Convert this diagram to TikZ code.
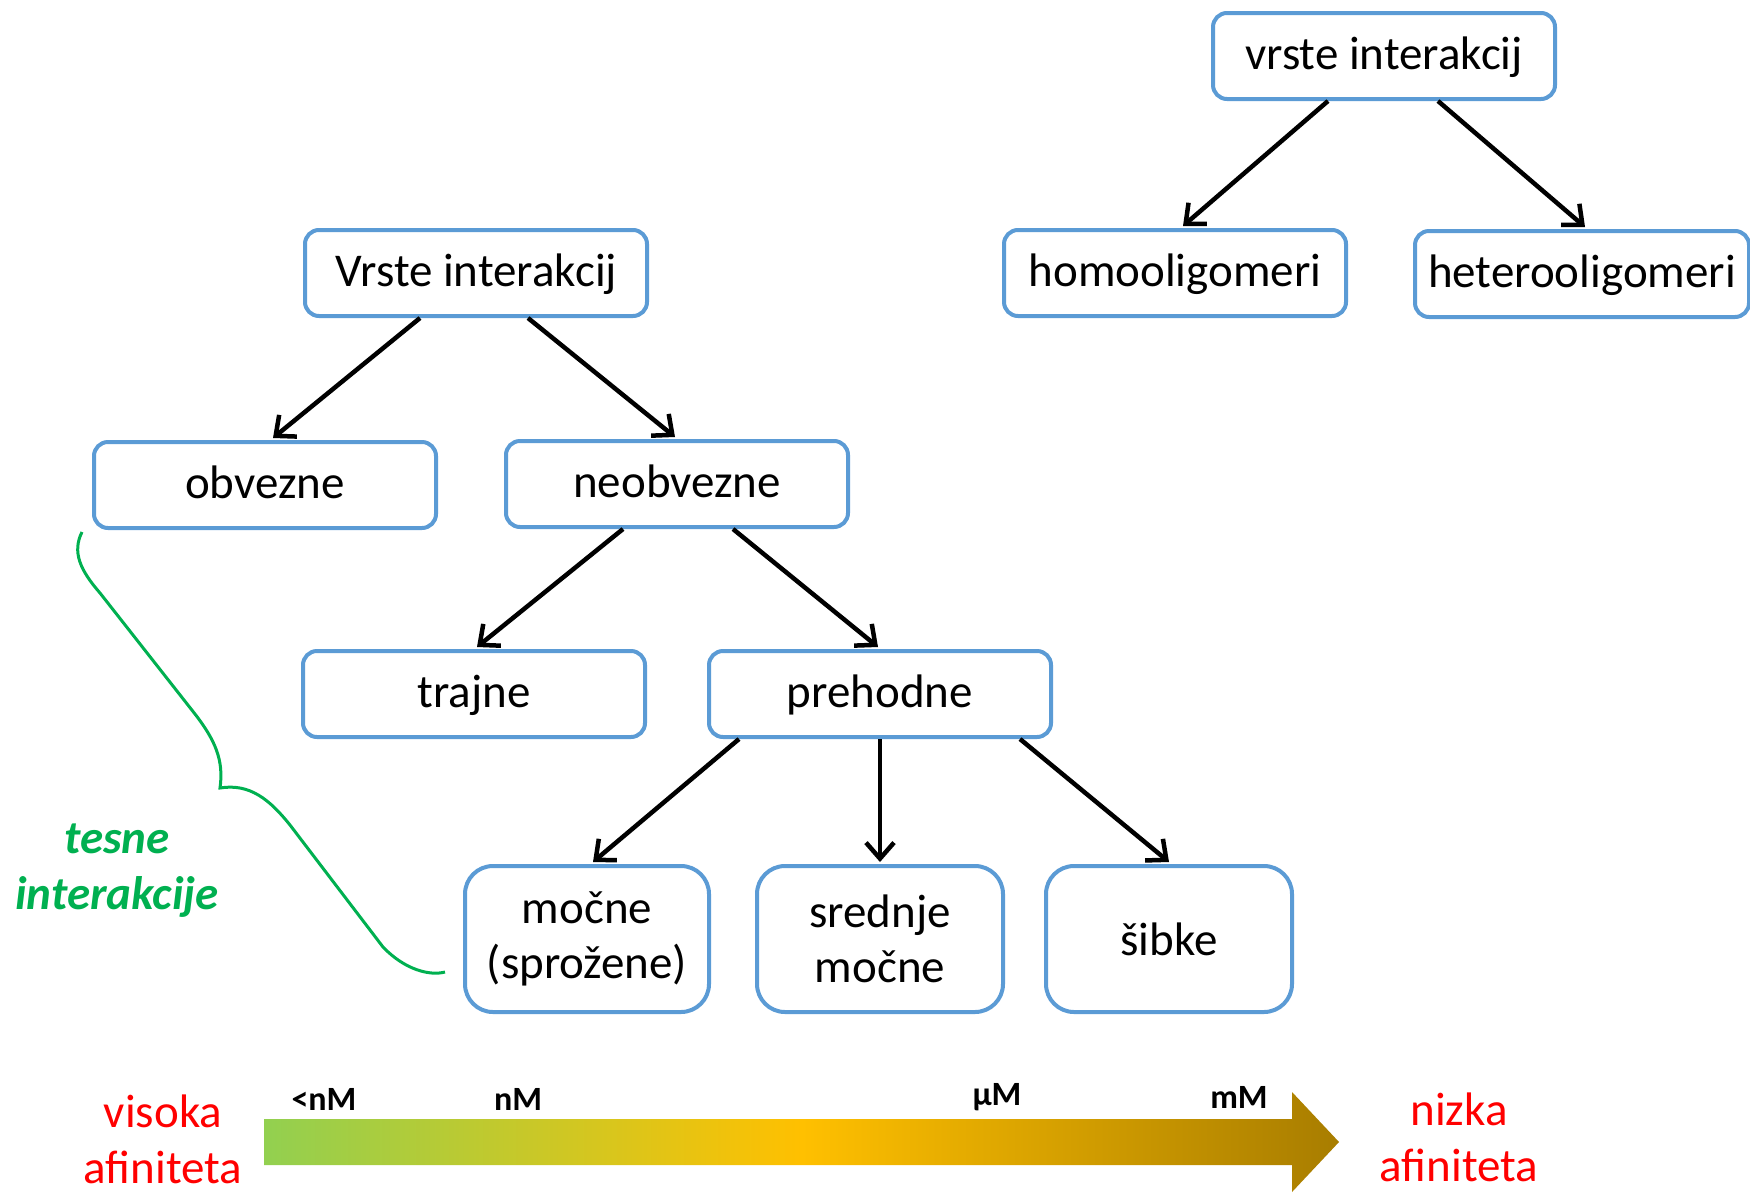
\documentclass[tikz,border=0pt]{standalone}
\usepackage{fontspec}
\setmainfont{Carlito}
\usetikzlibrary{arrows.meta}
\definecolor{boxblue}{HTML}{5B9BD5}
\definecolor{brgreen}{HTML}{00B050}
\definecolor{gstart}{HTML}{92D050}
\definecolor{gmid}{HTML}{FFC000}
\definecolor{gend}{HTML}{A87D00}
\begin{document}
\begin{tikzpicture}[x=1pt,y=-1pt,
  box/.style={draw=boxblue,line width=4pt,rounded corners=14pt,minimum width=342pt,minimum height=86pt,inner sep=0pt,font=\fontsize{47}{55}\selectfont,align=center,fill=white},
  onebox/.style={box,text height=35pt,text depth=9pt},
  bigbox/.style={box,rounded corners=28pt,minimum width=244pt,minimum height=146pt},
  arr/.style={line width=4.5pt,-{Straight Barb[length=16pt,width=28pt]}},
  unit/.style={font=\fontsize{34}{40}\selectfont\bfseries},
  redtxt/.style={font=\fontsize{47}{56}\selectfont,text=red,align=center,inner sep=0pt}]
\useasboundingbox (0,0) rectangle (1750,1192);
% boxes
\node[onebox] (t0) at (1384,56) {vrste interakcij};
\node[onebox] (homo) at (1175,273) {homooligomeri};
\node[onebox,minimum width=334pt] (hetero) at (1582,274) {heterooligomeri};
\node[onebox] (vrste) at (476,273) {Vrste interakcij};
\node[onebox] (obv) at (265,485) {obvezne};
\node[onebox] (neobv) at (677,484) {neobvezne};
\node[onebox] (traj) at (474,694) {trajne};
\node[onebox] (preh) at (880,694) {prehodne};
\node[bigbox] (mocne) at (587,939) {močne\\(sprožene)};
\node[bigbox,minimum width=246pt] (sred) at (880,939) {srednje\\močne};
\node[bigbox,minimum width=246pt] (sib) at (1169,939) {šibke};
% arrows
\draw[arr] ([xshift=-56pt]t0.south) -- ([xshift=8pt,yshift=2pt]homo.north);
\draw[arr] ([xshift=54pt]t0.south) -- ([xshift=3pt,yshift=2pt]hetero.north);
\draw[arr] ([xshift=-56pt]vrste.south) -- ([xshift=8pt,yshift=2pt]obv.north);
\draw[arr] ([xshift=52pt]vrste.south) -- ([xshift=-2pt,yshift=2pt]neobv.north);
\draw[arr] ([xshift=-54pt]neobv.south) -- ([xshift=3pt,yshift=2pt]traj.north);
\draw[arr] ([xshift=56pt]neobv.south) -- ([xshift=-2pt,yshift=2pt]preh.north);
\draw[arr] ([xshift=-141pt]preh.south) -- ([xshift=6pt,yshift=2pt]mocne.north);
\draw[arr] (preh.south) -- ([yshift=2pt]sred.north);
\draw[arr] ([xshift=140pt]preh.south) -- ([yshift=2pt]sib.north);
% brace
\draw[brgreen,line width=3pt] (82,532) .. controls (72,552) and (80,570) .. (100,593) -- (195,714) .. controls (215,740) and (224,760) .. (220,788) .. controls (250,783) and (270,800) .. (290,825) -- (383,947) .. controls (405,970) and (430,976) .. (445,972);
\node[font=\fontsize{47}{56}\selectfont\bfseries\itshape,text=brgreen,align=center,inner sep=0pt] (tesne) at (117,871) {tesne\\interakcije};
% gradient arrow
\shade[left color=gstart,right color=gend,middle color=gmid] (264,1119) -- (1292,1119) -- (1292,1092) -- (1339,1142) -- (1292,1192) -- (1292,1165) -- (264,1165) -- cycle;
\node[unit] (lnm) at (324,1099) {<nM};
\node[unit] (nm) at (518,1099) {nM};
\node[unit] (um) at (997,1097) {µM};
\node[unit] (mm) at (1239,1097) {mM};
\node[redtxt] (vis) at (163,1139) {visoka\\afiniteta};
\node[redtxt] (niz) at (1459,1137) {nizka\\afiniteta};
\end{tikzpicture}
\end{document}
